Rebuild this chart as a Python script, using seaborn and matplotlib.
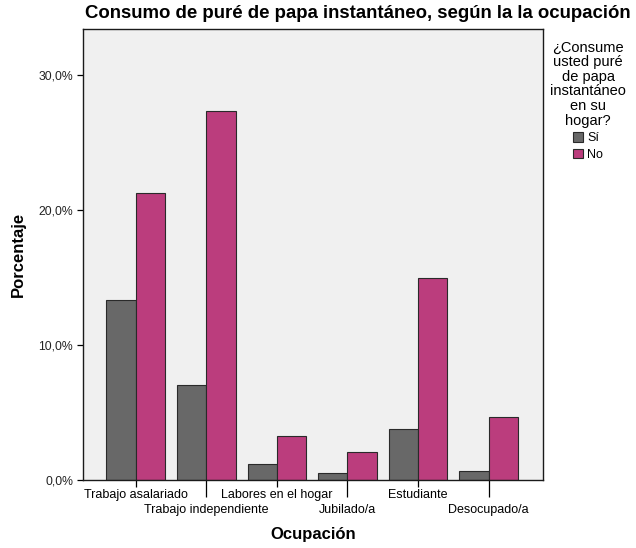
import pandas as pd
import matplotlib
matplotlib.use("Agg")
import matplotlib.pyplot as plt
import seaborn as sns
from matplotlib.ticker import FuncFormatter

# data (percent of all respondents)
categories = ["Trabajo asalariado", "Trabajo independiente", "Labores en el hogar",
              "Jubilado/a", "Estudiante", "Desocupado/a"]
hue_labels = ["Sí", "No"]
si_values = [13.3, 7.0, 1.2, 0.5, 3.75, 0.7]
no_values = [21.25, 27.35, 3.25, 2.1, 14.95, 4.7]
y_ticks = [0, 10, 20, 30]

colors = ["#686868", "#BB3D7D"]

rows = []
for cat, s, n in zip(categories, si_values, no_values):
    rows.append({"Ocupación": cat, "Consume": hue_labels[0], "Porcentaje": s})
    rows.append({"Ocupación": cat, "Consume": hue_labels[1], "Porcentaje": n})
df = pd.DataFrame(rows)

plt.rcParams["font.family"] = ["Liberation Sans", "DejaVu Sans"]

W, H = 636, 548
fig = plt.figure(figsize=(W / 100, H / 100), dpi=100)
ax = fig.add_axes([83 / W, 1 - 480 / H, (543 - 83) / W, (480 - 29) / H])
ax.set_facecolor("#F0F0F0")

sns.barplot(data=df, x="Ocupación", y="Porcentaje", hue="Consume",
            order=categories, hue_order=hue_labels, palette=colors, saturation=1,
            width=0.83, edgecolor="#2a2a2a", linewidth=0.8, ax=ax)
handles, labels = ax.get_legend_handles_labels()
if ax.get_legend() is not None:
    ax.get_legend().remove()

ax.set_xlim(-0.745, 5.77)
ax.set_ylim(0, 33.4)
ax.set_yticks(y_ticks)
ax.yaxis.set_major_formatter(FuncFormatter(lambda v, p: f"{v:.1f}%".replace(".", ",")))
ax.tick_params(axis="y", length=4, width=0.9, pad=3, labelsize=8.8, labelcolor="#222222")

# alternating category labels: even ones on first row, odd ones lower with longer ticks
even = list(range(0, len(categories), 2))
odd = list(range(1, len(categories), 2))
ax.set_xticks(even)
ax.set_xticklabels([categories[i] for i in even])
ax.set_xticks(odd, minor=True)
ax.set_xticklabels([categories[i] for i in odd], minor=True)
ax.tick_params(axis="x", which="major", length=5, width=0.9, pad=1.5, labelsize=9)
ax.tick_params(axis="x", which="minor", length=12.5, width=0.9, pad=5, labelsize=9)

ax.set_xlabel("")
ax.set_ylabel("")
for sp in ax.spines.values():
    sp.set_color("#1a1a1a")
    sp.set_linewidth(1.0)

fig.text(358 / W, 1 - 14 / H, "Consumo de puré de papa instantáneo, según la la ocupación",
         ha="center", va="center", fontsize=13.4, fontweight="bold")
fig.text(313 / W, 1 - 535 / H, "Ocupación", ha="center", va="center",
         fontsize=12, fontweight="bold")
fig.text(18 / W, 1 - 254 / H, "Porcentaje", ha="center", va="center",
         rotation=90, fontsize=12, fontweight="bold")

leg = fig.legend(handles, labels, loc="upper center", bbox_to_anchor=(588 / W, 1 - 32 / H),
                 title="¿Consume\nusted puré\nde papa\ninstantáneo\nen su\nhogar?",
                 frameon=False, fontsize=9, title_fontsize=10.5,
                 handlelength=0.84, handleheight=0.84, handletextpad=0.3,
                 labelspacing=0.35, borderpad=0.2)
leg.get_title().set_multialignment("center")
leg.get_title().set_linespacing(1.05)

fig.savefig("out.png", dpi=100)
